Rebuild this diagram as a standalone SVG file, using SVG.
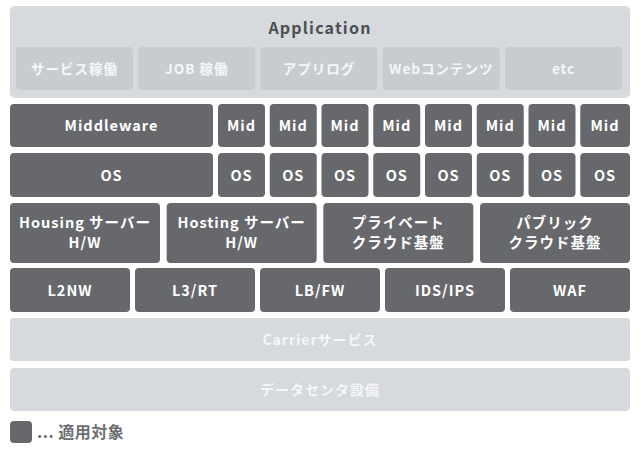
<svg xmlns="http://www.w3.org/2000/svg" width="640" height="450" viewBox="0 0 640 450">
<style>
text{font-family:"Noto Sans CJK JP","Noto Sans",sans-serif;font-weight:bold;text-anchor:middle;letter-spacing:1px}
.dk rect{fill:#66686c}
.dk text{fill:#ffffff;font-size:14.5px}
.lt{fill:#d6d9dd}
.sb{fill:#c8ccd1}
.sbt{fill:#f5f6f7;font-size:13.5px}
.ltt{fill:#f5f6f7;font-size:14px}
</style>
<rect width="640" height="450" fill="#ffffff"/>
<g id="application">
<rect class="lt" x="10" y="6" width="620" height="92" rx="5"/>
<text x="320" y="34" fill="#4e4f51" style="font-size:16px;letter-spacing:1.2px">Application</text>
</g>
<g id="app-service"><rect class="sb" x="16" y="47" width="117" height="43" rx="4"/><text class="sbt" x="74.5" y="73.5">サービス稼働</text></g>
<g id="app-job"><rect class="sb" x="138.25" y="47" width="117" height="43" rx="4"/><text class="sbt" x="196.75" y="73.5">JOB 稼働</text></g>
<g id="app-log"><rect class="sb" x="260.5" y="47" width="117" height="43" rx="4"/><text class="sbt" x="319" y="73.5">アプリログ</text></g>
<g id="app-web"><rect class="sb" x="382.75" y="47" width="117" height="43" rx="4"/><text class="sbt" x="441.25" y="73.5">Webコンテンツ</text></g>
<g id="app-etc"><rect class="sb" x="505" y="47" width="117" height="43" rx="4"/><text class="sbt" x="563.5" y="73.5">etc</text></g>

<g class="dk">
<g id="middleware"><rect x="10" y="104" width="203" height="43" rx="4"/><text x="111.5" y="131">Middleware</text></g>
<g id="mid1"><rect x="218" y="104" width="47" height="43" rx="4"/><text x="241.5" y="131">Mid</text></g>
<g id="mid2"><rect x="269.75" y="104" width="47" height="43" rx="4"/><text x="293.25" y="131">Mid</text></g>
<g id="mid3"><rect x="321.5" y="104" width="47" height="43" rx="4"/><text x="345" y="131">Mid</text></g>
<g id="mid4"><rect x="373.25" y="104" width="47" height="43" rx="4"/><text x="396.75" y="131">Mid</text></g>
<g id="mid5"><rect x="425" y="104" width="47" height="43" rx="4"/><text x="448.5" y="131">Mid</text></g>
<g id="mid6"><rect x="476.75" y="104" width="47" height="43" rx="4"/><text x="500.25" y="131">Mid</text></g>
<g id="mid7"><rect x="528.5" y="104" width="47" height="43" rx="4"/><text x="552" y="131">Mid</text></g>
<g id="mid8"><rect x="580.25" y="104" width="49.75" height="43" rx="4"/><text x="605" y="131">Mid</text></g>

<g id="os"><rect x="10" y="153" width="203" height="44" rx="4"/><text x="111.5" y="180.5">OS</text></g>
<g id="os1"><rect x="218" y="153" width="47" height="44" rx="4"/><text x="241.5" y="180.5">OS</text></g>
<g id="os2"><rect x="269.75" y="153" width="47" height="44" rx="4"/><text x="293.25" y="180.5">OS</text></g>
<g id="os3"><rect x="321.5" y="153" width="47" height="44" rx="4"/><text x="345" y="180.5">OS</text></g>
<g id="os4"><rect x="373.25" y="153" width="47" height="44" rx="4"/><text x="396.75" y="180.5">OS</text></g>
<g id="os5"><rect x="425" y="153" width="47" height="44" rx="4"/><text x="448.5" y="180.5">OS</text></g>
<g id="os6"><rect x="476.75" y="153" width="47" height="44" rx="4"/><text x="500.25" y="180.5">OS</text></g>
<g id="os7"><rect x="528.5" y="153" width="47" height="44" rx="4"/><text x="552" y="180.5">OS</text></g>
<g id="os8"><rect x="580.25" y="153" width="49.75" height="44" rx="4"/><text x="605" y="180.5">OS</text></g>

<g id="housing"><rect x="10" y="203" width="150" height="60" rx="4"/><text x="85" y="228">Housing サーバー</text><text x="85" y="248">H/W</text></g>
<g id="hosting"><rect x="166.67" y="203" width="150" height="60" rx="4"/><text x="241.67" y="228">Hosting サーバー</text><text x="241.67" y="248">H/W</text></g>
<g id="private"><rect x="323.33" y="203" width="150" height="60" rx="4"/><text x="398.33" y="228">プライベート</text><text x="398.33" y="248">クラウド基盤</text></g>
<g id="public"><rect x="480" y="203" width="150" height="60" rx="4"/><text x="555" y="228">パブリック</text><text x="555" y="248">クラウド基盤</text></g>

<g id="l2nw"><rect x="10" y="268" width="120" height="44" rx="4"/><text x="70" y="295.5">L2NW</text></g>
<g id="l3rt"><rect x="135" y="268" width="120" height="44" rx="4"/><text x="195" y="295.5">L3/RT</text></g>
<g id="lbfw"><rect x="260" y="268" width="120" height="44" rx="4"/><text x="320" y="295.5">LB/FW</text></g>
<g id="idsips"><rect x="385" y="268" width="120" height="44" rx="4"/><text x="445" y="295.5">IDS/IPS</text></g>
<g id="waf"><rect x="510" y="268" width="120" height="44" rx="4"/><text x="570" y="295.5">WAF</text></g>
</g>

<g id="carrier"><rect class="lt" x="10" y="318" width="620" height="43" rx="4"/><text class="ltt" x="320" y="345">Carrierサービス</text></g>
<g id="datacenter"><rect class="lt" x="10" y="368" width="620" height="43" rx="4"/><text class="ltt" x="320" y="395">データセンタ設備</text></g>

<g id="legend">
<rect x="10" y="421" width="22" height="22" rx="4" fill="#66686c"/>
<text x="37" y="438" fill="#6b6d70" style="text-anchor:start;font-size:16px;letter-spacing:0.5px">... 適用対象</text>
</g>
</svg>
